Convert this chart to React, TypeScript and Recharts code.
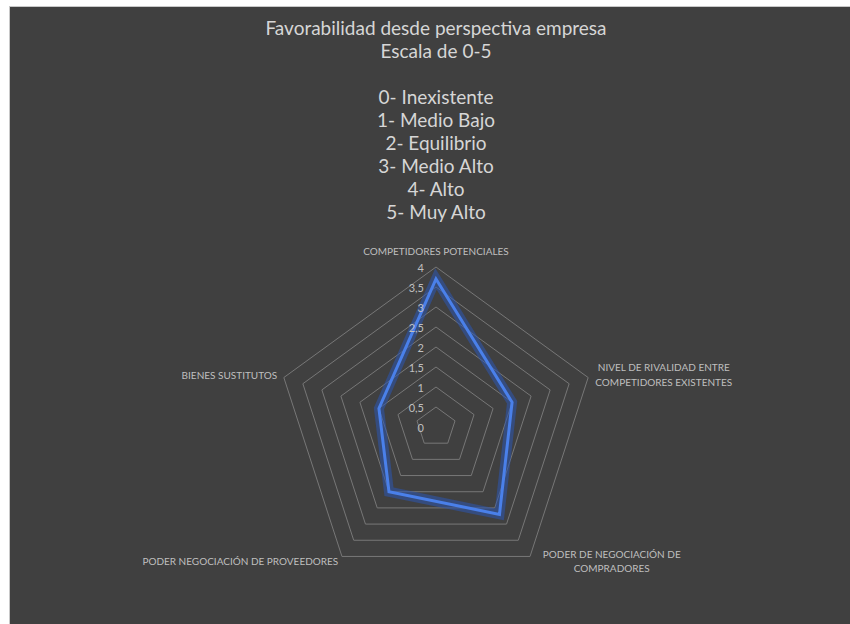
import { RadarChart, Radar, PolarGrid, PolarAngleAxis, PolarRadiusAxis } from "recharts";

const categories = [
  "COMPETIDORES POTENCIALES",
  "NIVEL DE RIVALIDAD ENTRE COMPETIDORES EXISTENTES",
  "PODER DE NEGOCIACIÓN DE COMPRADORES",
  "PODER NEGOCIACIÓN DE PROVEEDORES",
  "BIENES SUSTITUTOS",
];

const categoryLines = [
  ["COMPETIDORES POTENCIALES"],
  ["NIVEL DE RIVALIDAD ENTRE", "COMPETIDORES EXISTENTES"],
  ["PODER DE NEGOCIACIÓN DE", "COMPRADORES"],
  ["PODER NEGOCIACIÓN DE PROVEEDORES"],
  ["BIENES SUSTITUTOS"],
];

const values = [3.7, 2, 2.7, 2, 1.5];
const radiusTicks = [0, 0.5, 1, 1.5, 2, 2.5, 3, 3.5, 4];

const titleLines = ["Favorabilidad desde perspectiva empresa", "Escala de 0-5", ""];
const scaleLines = ["0- Inexistente", "1- Medio Bajo", "2- Equilibrio", "3- Medio Alto", "4- Alto", "5- Muy Alto"];

const data = categories.map((c, i) => ({ name: c, value: values[i] }));

const FONT = "Lato, 'Open Sans', sans-serif";
const LABEL = "#bfbfbf";

// label placement relative to the tick point recharts hands us
const labelPos = [
  { anchor: "middle", dx: 0, dy: [-8] },
  { anchor: "middle", dx: 68, dy: [-8, 7] },
  { anchor: "middle", dx: 77, dy: [-9, 5] },
  { anchor: "end", dx: 1, dy: [-2] },
  { anchor: "end", dx: 1, dy: [0] },
];

const AngleTick = (props: any) => {
  const { x, y, index } = props;
  const p = labelPos[index];
  return (
    <g>
      {categoryLines[index].map((line, i) => (
        <text
          key={i}
          x={x + p.dx}
          y={y + p.dy[i]}
          textAnchor={p.anchor}
          dominantBaseline="central"
          fill={LABEL}
          fontSize={10}
          fontFamily={FONT}
        >
          {line}
        </text>
      ))}
    </g>
  );
};

const RadiusTick = (props: any) => {
  const { x, y, payload } = props;
  return (
    <text x={x - 12} y={y} textAnchor="end" dominantBaseline="central" fill={LABEL} fontSize={11} fontFamily={FONT}>
      {String(payload.value).replace(".", ",")}
    </text>
  );
};

export default function App() {
  return (
    <div style={{ position: "fixed", top: 0, left: 0, width: 850, height: 624, background: "#ffffff", overflow: "hidden" }}>
      <div
        style={{
          position: "absolute",
          left: 9,
          top: 6,
          width: 841,
          height: 618,
          background: "#404040",
          borderTop: "1px solid #c8c8c8",
          borderLeft: "1px solid #c8c8c8",
          boxSizing: "border-box",
        }}
      >
        <div
          style={{
            position: "absolute",
            top: 9,
            left: 0,
            width: 852,
            textAlign: "center",
            fontFamily: FONT,
            fontSize: 19,
            lineHeight: "23px",
            color: "#d6d6d6",
          }}
        >
          {[...titleLines, ...scaleLines].map((t, i) => (
            <div key={i} style={{ height: 23 }}>
              {t}
            </div>
          ))}
        </div>
        <div style={{ position: "absolute", left: 0, top: 0 }}>
          <RadarChart
            width={840}
            height={617}
            data={data}
            cx={426}
            cy={420}
            outerRadius={160}
            margin={{ top: 0, right: 0, bottom: 0, left: 0 }}
          >
            <PolarGrid gridType="polygon" radialLines={false} stroke="#777777" strokeWidth={1} />
            <PolarAngleAxis dataKey="name" tick={<AngleTick />} tickLine={false} axisLine={false} />
            <PolarRadiusAxis
              angle={90}
              domain={[0, 4]}
              type="number"
              allowDecimals={true}
              tickCount={radiusTicks.length}
              ticks={radiusTicks as any}
              tick={<RadiusTick />}
              tickLine={false}
              axisLine={false}
            />
            <Radar
              dataKey="value"
              stroke="#2b56b0"
              strokeOpacity={0.55}
              strokeWidth={10}
              strokeLinejoin="miter"
              fill="none"
              dot={false}
              isAnimationActive={false}
            />
            <Radar
              dataKey="value"
              stroke="#4a80ea"
              strokeWidth={3}
              strokeLinejoin="miter"
              fill="none"
              dot={false}
              isAnimationActive={false}
            />
          </RadarChart>
        </div>
      </div>
    </div>
  );
}
